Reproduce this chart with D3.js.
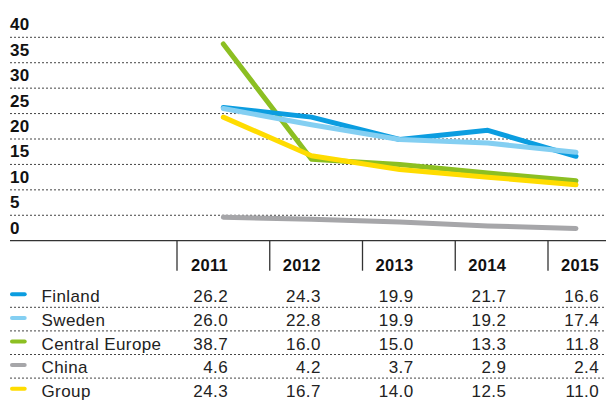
<!DOCTYPE html>
<html>
<head>
<meta charset="utf-8">
<script src="https://cdn.jsdelivr.net/npm/d3@7/dist/d3.min.js"></script>
<style>
  html, body { margin: 0; padding: 0; background: #fff; }
  svg { display: block; font-family: "Liberation Sans", Arial, Helvetica, sans-serif; }
</style>
</head>
<body>
<svg id="chart" width="606" height="401"></svg>
<script>
const years = [2011, 2012, 2013, 2014, 2015];
const seriesNames = ["Finland", "Sweden", "Central Europe", "China", "Group"];
const finland = [26.2, 24.3, 19.9, 21.7, 16.6];
const sweden = [26.0, 22.8, 19.9, 19.2, 17.4];
const centralEurope = [38.7, 16.0, 15.0, 13.3, 11.8];
const china = [4.6, 4.2, 3.7, 2.9, 2.4];
const group = [24.3, 16.7, 14.0, 12.5, 11.0];
const yTicks = [0, 5, 10, 15, 20, 25, 30, 35, 40];

const colors = {
    "Finland": "#0b9de0",
    "Sweden": "#84cff2",
    "Central Europe": "#8cbf22",
    "China": "#a6a6a9",
    "Group": "#ffdc00"
};
const valuesByName = {
    "Finland": finland,
    "Sweden": sweden,
    "Central Europe": centralEurope,
    "China": china,
    "Group": group
};
// back to front, as in the picture
const drawOrder = ["China", "Central Europe", "Group", "Finland", "Sweden"];

const svg = d3.select("#chart");
const leftEdge = 10, rightEdge = 606;

const x = d3.scalePoint().domain(years).range([223.3, 576]);
const y = d3.scaleLinear().domain([0, 40]).range([240.7, 37.3]);

// dashed grid + bold tick labels
svg.append("g").selectAll("line")
    .data(yTicks.filter(d => d > 0))
    .join("line")
    .attr("x1", leftEdge).attr("x2", rightEdge)
    .attr("y1", d => y(d)).attr("y2", d => y(d))
    .attr("stroke", "#444").attr("stroke-width", 1)
    .attr("stroke-dasharray", "2,2");

svg.append("g").selectAll("text")
    .data(yTicks)
    .join("text")
    .attr("x", leftEdge).attr("y", d => y(d) - 7)
    .attr("font-size", 17).attr("font-weight", "bold").attr("fill", "#111")
    .attr("letter-spacing", 0.3)
    .text(d => d);

// baseline
svg.append("line")
    .attr("x1", leftEdge).attr("x2", rightEdge)
    .attr("y1", y(0)).attr("y2", y(0))
    .attr("stroke", "#333").attr("stroke-width", 1.3);

// lines
const line = d3.line().x((d, i) => x(years[i])).y(d => y(d));
svg.append("g").selectAll("path")
    .data(drawOrder)
    .join("path")
    .attr("d", n => line(valuesByName[n]))
    .attr("fill", "none")
    .attr("stroke", n => colors[n])
    .attr("stroke-width", 5)
    .attr("stroke-linecap", "round")
    .attr("stroke-linejoin", "round");

// table
const col = d3.scalePoint().domain(years).range([228, 599]);
const headerBase = 270.7;
const rowY = d3.scalePoint().domain(seriesNames).range([302.3, 396.7]);

svg.append("g").selectAll("line")
    .data(years)
    .join("line")
    .attr("x1", d => col(d) - 51).attr("x2", d => col(d) - 51)
    .attr("y1", y(0)).attr("y2", headerBase)
    .attr("stroke", "#333").attr("stroke-width", 1.3);

svg.append("g").selectAll("text")
    .data(years)
    .join("text")
    .attr("x", d => col(d)).attr("y", headerBase)
    .attr("text-anchor", "end")
    .attr("font-size", 16.5).attr("font-weight", "bold").attr("fill", "#111")
    .attr("letter-spacing", 0.3)
    .text(d => d);

// row separators
svg.append("g").selectAll("line")
    .data(seriesNames.slice(0, -1))
    .join("line")
    .attr("x1", leftEdge).attr("x2", rightEdge)
    .attr("y1", n => rowY(n) + 5).attr("y2", n => rowY(n) + 5)
    .attr("stroke", "#444").attr("stroke-width", 1)
    .attr("stroke-dasharray", "2,2");

const rows = svg.append("g").selectAll("g")
    .data(seriesNames)
    .join("g")
    .attr("transform", n => `translate(0,${rowY(n)})`);

rows.append("line")
    .attr("x1", 12).attr("x2", 24.7)
    .attr("y1", -8).attr("y2", -8)
    .attr("stroke", n => colors[n])
    .attr("stroke-width", 4)
    .attr("stroke-linecap", "round");

rows.append("text")
    .attr("x", 41.5).attr("y", 0)
    .attr("font-size", 17).attr("fill", "#222")
    .attr("letter-spacing", 0.4)
    .text(n => n);

rows.selectAll("text.val")
    .data(n => valuesByName[n].map((v, i) => ({ v, year: years[i] })))
    .join("text")
    .attr("class", "val")
    .attr("x", d => col(d.year)).attr("y", 0)
    .attr("text-anchor", "end")
    .attr("font-size", 17).attr("fill", "#222")
    .attr("letter-spacing", 0.4)
    .text(d => d.v.toFixed(1));
</script>
</body>
</html>
